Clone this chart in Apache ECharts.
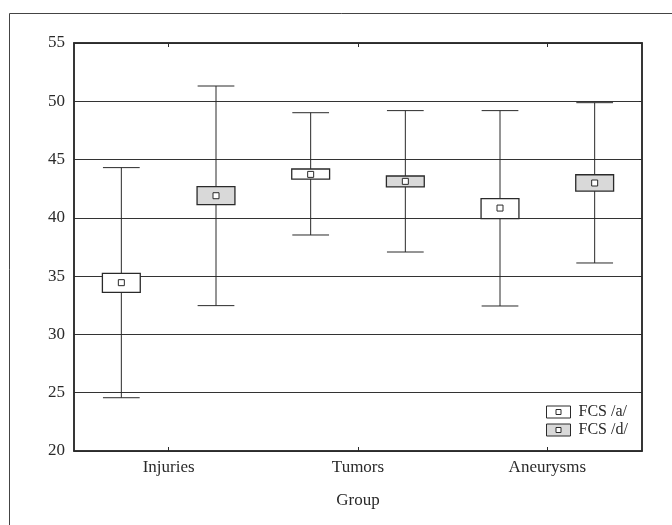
<!DOCTYPE html>
<html>
<head>
<meta charset="utf-8">
<script src="https://cdn.jsdelivr.net/npm/echarts@6/dist/echarts.min.js"></script>
<style>
html,body{margin:0;padding:0;background:#fff;}
#chart{width:672px;height:525px;}
</style>
</head>
<body>
<div id="chart"></div>
<script>
var categories = ['Injuries', 'Tumors', 'Aneurysms'];
var yTicks = [20, 25, 30, 35, 40, 45, 50, 55];

var fcsA_mean    = [34.44, 43.73, 40.84];
var fcsA_boxLow  = [33.61, 43.33, 39.93];
var fcsA_boxHigh = [35.24, 44.19, 41.65];
var fcsA_min     = [24.57, 38.53, 32.44];
var fcsA_max     = [44.31, 49.02, 49.20];

var fcsD_mean    = [41.90, 43.13, 42.99];
var fcsD_boxLow  = [41.13, 42.65, 42.30];
var fcsD_boxHigh = [42.68, 43.59, 43.70];
var fcsD_min     = [32.47, 37.07, 36.13];
var fcsD_max     = [51.31, 49.20, 49.88];

var FONT = 'Liberation Serif';
var INK = '#2a2a2a';

function buildData(mean, lo, hi, mn, mx) {
  return categories.map(function (c, i) {
    return [i, mean[i], lo[i], hi[i], mn[i], mx[i]];
  });
}

function makeRender(sign, fill) {
  return function (params, api) {
    var i = api.value(0);
    var band = api.size([1, 0])[0];
    var cx = api.coord([i, 0])[0] + sign * band / 4;
    var yMean = api.coord([i, api.value(1)])[1];
    var yLo = api.coord([i, api.value(2)])[1];
    var yHi = api.coord([i, api.value(3)])[1];
    var yMin = api.coord([i, api.value(4)])[1];
    var yMax = api.coord([i, api.value(5)])[1];
    var bw = band * 0.2;
    var cw = band * 0.097;
    var ms = 6;
    var lineStyle = {stroke: INK, lineWidth: 1, fill: null};
    return {
      type: 'group',
      children: [
        {type: 'line', shape: {x1: cx, y1: yMax, x2: cx, y2: yHi}, style: lineStyle},
        {type: 'line', shape: {x1: cx, y1: yLo, x2: cx, y2: yMin}, style: lineStyle},
        {type: 'line', shape: {x1: cx - cw, y1: yMax, x2: cx + cw, y2: yMax}, style: lineStyle},
        {type: 'line', shape: {x1: cx - cw, y1: yMin, x2: cx + cw, y2: yMin}, style: lineStyle},
        {type: 'rect', shape: {x: cx - bw / 2, y: yHi, width: bw, height: yLo - yHi},
          style: {fill: fill, stroke: INK, lineWidth: 1.3}},
        {type: 'rect', shape: {x: cx - ms / 2, y: yMean - ms / 2, width: ms, height: ms},
          style: {fill: '#fff', stroke: INK, lineWidth: 1}}
      ]
    };
  };
}

var legendIcon = 'path://M0,0L24,0L24,12L0,12Z M9.5,3.5L9.5,8.5L14.5,8.5L14.5,3.5Z';

var chart = echarts.init(document.getElementById('chart'), null, {renderer: 'canvas'});
chart.setOption({
  animation: false,
  backgroundColor: '#fff',
  graphic: [{
    type: 'rect', left: 7, top: 11, z: -10,
    shape: {width: 720, height: 620},
    style: {fill: null, stroke: '#444', lineWidth: 1}
  }],
  grid: {left: 74, right: 30, top: 43, bottom: 74, show: true, borderColor: INK, borderWidth: 1.5, backgroundColor: 'transparent'},
  legend: {
    orient: 'vertical', left: 546, top: 404, padding: 0, itemWidth: 24, itemHeight: 12, itemGap: 2,
    textStyle: {fontFamily: FONT, fontSize: 16, color: INK, padding: [0, 0, 0, 3]},
    data: [
      {name: 'FCS /a/', icon: legendIcon, itemStyle: {color: '#ffffff', borderColor: INK, borderWidth: 1}},
      {name: 'FCS /d/', icon: legendIcon, itemStyle: {color: '#d9d9d9', borderColor: INK, borderWidth: 1}}
    ]
  },
  xAxis: [{
    type: 'category', data: categories, position: 'bottom',
    axisLine: {show: true, lineStyle: {color: INK, width: 1.5}},
    axisTick: {show: true, inside: true, alignWithLabel: true, length: 4, lineStyle: {color: INK}},
    axisLabel: {fontFamily: FONT, fontSize: 17, color: INK, margin: 8},
    name: 'Group', nameLocation: 'middle', nameGap: 41,
    nameTextStyle: {fontFamily: FONT, fontSize: 17, color: INK},
    splitLine: {show: false}
  }, {
    type: 'category', data: categories, position: 'top',
    axisLine: {show: true, lineStyle: {color: INK, width: 1.5}},
    axisTick: {show: true, inside: true, alignWithLabel: true, length: 4, lineStyle: {color: INK}},
    axisLabel: {show: false}, splitLine: {show: false}
  }],
  yAxis: [{
    type: 'value', min: yTicks[0], max: yTicks[yTicks.length - 1], interval: 5,
    axisLine: {show: true, lineStyle: {color: INK, width: 1.5}},
    axisTick: {show: false},
    axisLabel: {fontFamily: FONT, fontSize: 17, color: INK, margin: 9},
    splitLine: {show: true, lineStyle: {color: '#333', width: 1.2}}
  }, {
    type: 'value', min: yTicks[0], max: yTicks[yTicks.length - 1], interval: 5, position: 'right',
    axisLine: {show: true, lineStyle: {color: INK, width: 1.5}},
    axisTick: {show: true, inside: true, length: 3, lineStyle: {color: INK}},
    axisLabel: {show: false}, splitLine: {show: false}
  }],
  series: [{
    name: 'FCS /a/', type: 'custom',
    itemStyle: {color: '#ffffff', borderColor: INK},
    renderItem: makeRender(-1, '#ffffff'),
    encode: {x: 0, y: [1, 2, 3, 4, 5]},
    data: buildData(fcsA_mean, fcsA_boxLow, fcsA_boxHigh, fcsA_min, fcsA_max),
    z: 5
  }, {
    name: 'FCS /d/', type: 'custom',
    itemStyle: {color: '#d9d9d9', borderColor: INK},
    renderItem: makeRender(1, '#d9d9d9'),
    encode: {x: 0, y: [1, 2, 3, 4, 5]},
    data: buildData(fcsD_mean, fcsD_boxLow, fcsD_boxHigh, fcsD_min, fcsD_max),
    z: 5
  }]
});
</script>
</body>
</html>
